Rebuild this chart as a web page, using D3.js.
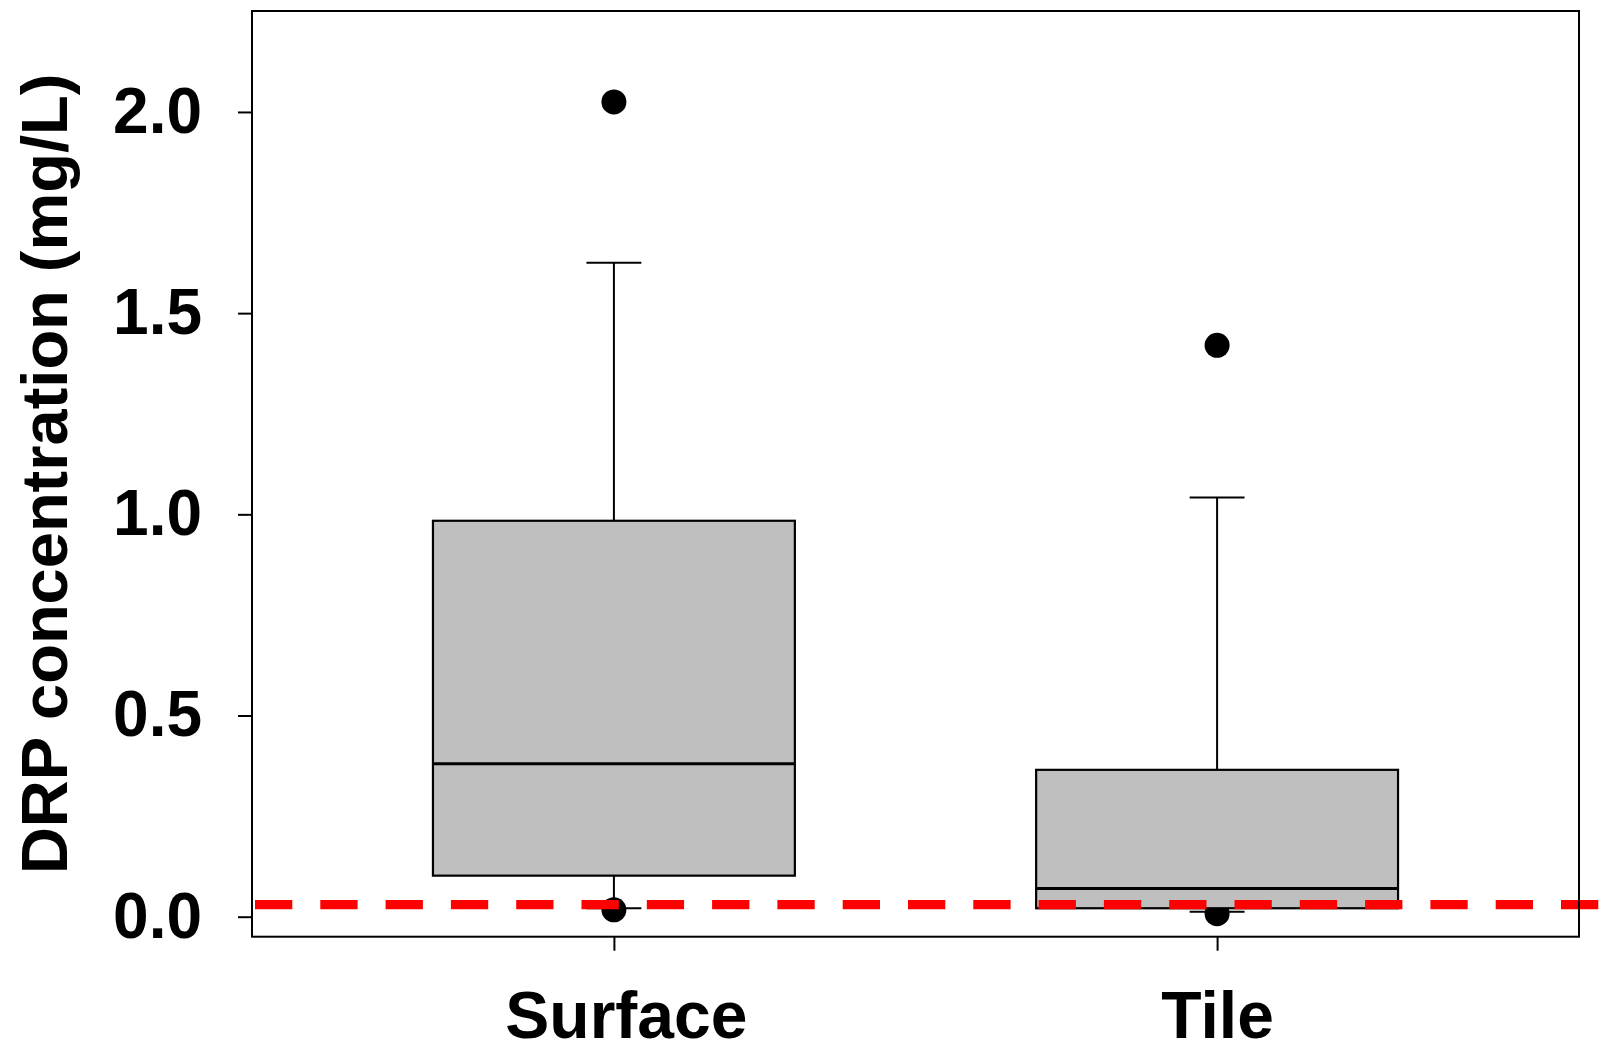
<!DOCTYPE html>
<html>
<head>
<meta charset="utf-8">
<script src="https://cdn.jsdelivr.net/npm/d3@7"></script>
<style>
  html, body { margin: 0; padding: 0; background: #fff; }
  svg text { font-family: "Liberation Sans", Arial, sans-serif; font-weight: bold; fill: #000; }
</style>
</head>
<body>
<div id="chart"></div>
<script>
// box plot summary values (mg/L)
const categories = ["Surface", "Tile"];
const whiskerLow = [0.021, 0.012];
const q1 = [0.102, 0.021];
const medians = [0.380, 0.070];
const q3 = [0.984, 0.365];
const whiskerHigh = [1.625, 1.042];
const outliers = [[2.025, 0.017], [1.420, 0.0075]];
const threshold = 0.03;
const yTicks = [0, 0.5, 1.0, 1.5, 2.0];

const width = 1600;
const height = 1048;

// plot region
const frame = {l: 252, r: 1579, t: 11, b: 936.7};

const svg = d3.select('#chart')
    .append('svg')
    .attr('width', width)
    .attr('height', height);

// x: group index (1, 2) like base R boxplot
const x = d3.scaleLinear()
    .domain([0.4, 2.6])
    .range([frame.l, frame.r]);

const y = d3.scaleLinear()
    .domain([-0.0497, 2.2509])
    .range([frame.b, frame.t]);

const boxWidth = 0.6;
const capWidth = 0.091;

const groups = categories.map((c, i) => ({
    name: c,
    pos: i + 1,
    lo: whiskerLow[i], q1: q1[i], med: medians[i], q3: q3[i], hi: whiskerHigh[i],
    out: outliers[i]
}));

// outlier points (drawn first, boxes go over them)
svg.append('g')
    .selectAll('g')
    .data(groups)
    .enter()
    .append('g')
    .selectAll('circle')
    .data(d => d.out.map(v => ({pos: d.pos, v})))
    .enter()
    .append('circle')
    .attr('cx', d => x(d.pos))
    .attr('cy', d => y(d.v))
    .attr('r', 12.5)
    .attr('fill', '#000');

const box = svg.append('g')
    .selectAll('.box')
    .data(groups)
    .enter()
    .append('g')
    .classed('box', true);

// whiskers
box.append('line')
    .attr('x1', d => x(d.pos)).attr('x2', d => x(d.pos))
    .attr('y1', d => y(d.q3)).attr('y2', d => y(d.hi))
    .attr('stroke', '#000').attr('stroke-width', 2);
box.append('line')
    .attr('x1', d => x(d.pos)).attr('x2', d => x(d.pos))
    .attr('y1', d => y(d.q1)).attr('y2', d => y(d.lo))
    .attr('stroke', '#000').attr('stroke-width', 2);

// staples
['hi', 'lo'].forEach(k => {
    box.append('line')
        .attr('x1', d => x(d.pos - capWidth / 2))
        .attr('x2', d => x(d.pos + capWidth / 2))
        .attr('y1', d => y(d[k])).attr('y2', d => y(d[k]))
        .attr('stroke', '#000').attr('stroke-width', 2);
});

box.append('rect')
    .attr('x', d => x(d.pos - boxWidth / 2))
    .attr('width', d => x(d.pos + boxWidth / 2) - x(d.pos - boxWidth / 2))
    .attr('y', d => y(d.q3))
    .attr('height', d => y(d.q1) - y(d.q3))
    .attr('fill', '#bfbfbf')
    .attr('stroke', '#000')
    .attr('stroke-width', 2.2);

box.append('line')
    .attr('x1', d => x(d.pos - boxWidth / 2))
    .attr('x2', d => x(d.pos + boxWidth / 2))
    .attr('y1', d => y(d.med)).attr('y2', d => y(d.med))
    .attr('stroke', '#000').attr('stroke-width', 3);

// threshold line, runs past the right border
svg.append('line')
    .attr('x1', x(0.4) + 3)
    .attr('x2', width)
    .attr('y1', y(threshold))
    .attr('y2', y(threshold))
    .attr('stroke', '#ff0000')
    .attr('stroke-width', 9.3)
    .attr('stroke-dasharray', '37.3 28');

// frame
svg.append('rect')
    .attr('x', x(0.4))
    .attr('y', y(2.2509))
    .attr('width', x(2.6) - x(0.4))
    .attr('height', y(-0.0497) - y(2.2509))
    .attr('fill', 'none')
    .attr('stroke', '#000')
    .attr('stroke-width', 2);

// axes
const yAxis = svg.append('g')
    .attr('transform', `translate(${frame.l},0)`)
    .call(d3.axisLeft(y)
        .tickValues(yTicks)
        .tickFormat(d3.format('.1f'))
        .tickSize(14)
        .tickPadding(36));
yAxis.select('.domain').remove();
yAxis.selectAll('line').attr('stroke', '#000').attr('stroke-width', 2);
yAxis.selectAll('text').style('font-size', '64px');

const xAxis = svg.append('g')
    .attr('transform', `translate(0,${frame.b})`)
    .call(d3.axisBottom(x)
        .tickValues(groups.map(d => d.pos))
        .tickFormat((d, i) => categories[i])
        .tickSize(14)
        .tickPadding(40));
xAxis.select('.domain').remove();
xAxis.selectAll('line').attr('stroke', '#000').attr('stroke-width', 2);
xAxis.selectAll('text')
    .style('font-size', '66px')
    // first label sits a bit right of its tick in the original
    .attr('dx', (d, i) => i === 0 ? 12 : 0);

svg.append('text')
    .attr('transform', `translate(67,${(frame.t + frame.b) / 2}) rotate(-90)`)
    .attr('text-anchor', 'middle')
    .style('font-size', '65px')
    .text('DRP concentration (mg/L)');
</script>
</body>
</html>
